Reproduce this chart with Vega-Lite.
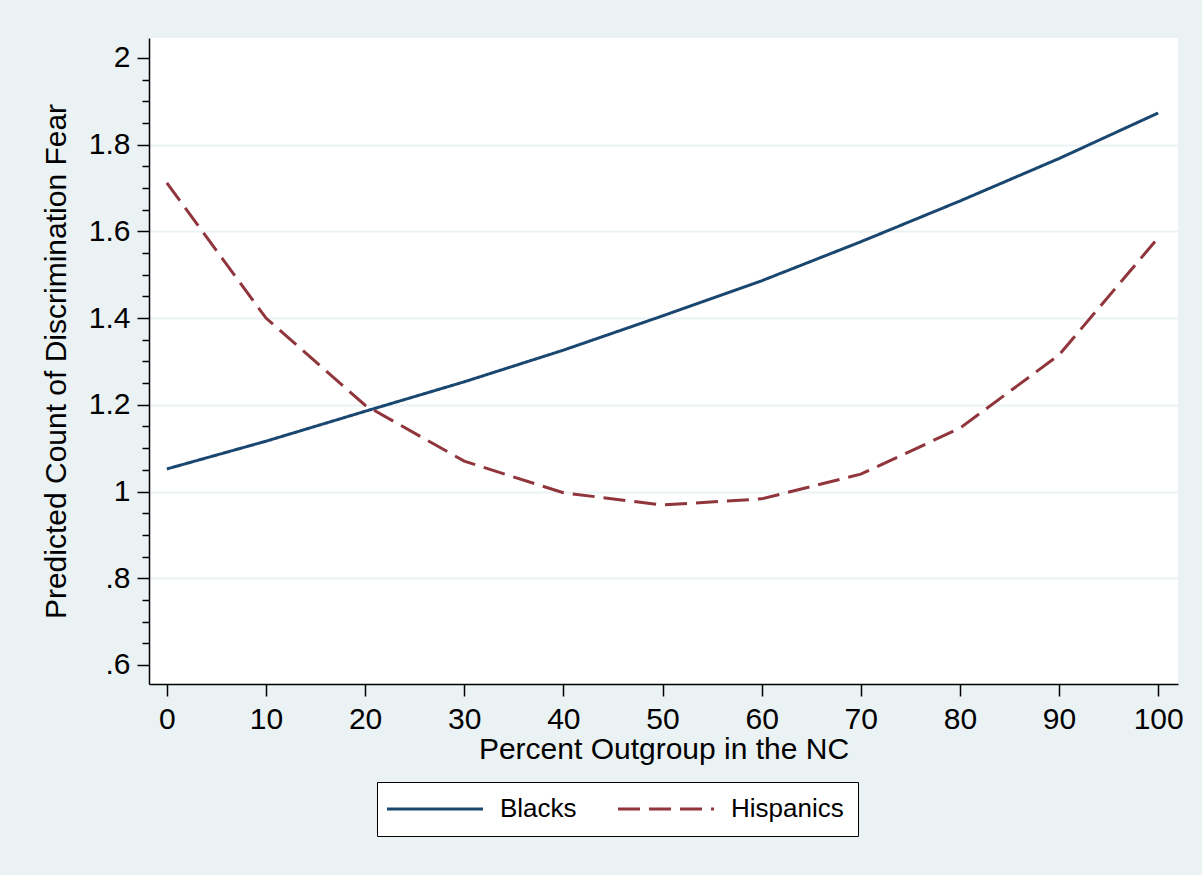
{
  "$schema": "https://vega.github.io/schema/vega-lite/v6.json",
  "autosize": {"type": "none"},
  "width": 1029,
  "height": 646,
  "padding": {"left": 149, "top": 38, "right": 24, "bottom": 191},
  "background": "#eaf2f3",
  "config": {
    "view": {"fill": "white", "stroke": null},
    "font": "Liberation Sans",
    "axis": {"labelFont": "Liberation Sans", "titleFont": "Liberation Sans", "labelColor": "black", "titleColor": "black", "titleFontWeight": "normal", "domainColor": "black", "tickColor": "black", "domainWidth": 1.5, "tickWidth": 1.5}
  },
  "data": {
    "values": [
      {"x": 0, "y": 1.052, "group": "Blacks"},
      {"x": 10, "y": 1.116, "group": "Blacks"},
      {"x": 20, "y": 1.185, "group": "Blacks"},
      {"x": 30, "y": 1.253, "group": "Blacks"},
      {"x": 40, "y": 1.326, "group": "Blacks"},
      {"x": 50, "y": 1.405, "group": "Blacks"},
      {"x": 60, "y": 1.486, "group": "Blacks"},
      {"x": 70, "y": 1.576, "group": "Blacks"},
      {"x": 80, "y": 1.670, "group": "Blacks"},
      {"x": 90, "y": 1.768, "group": "Blacks"},
      {"x": 100, "y": 1.873, "group": "Blacks"},
      {"x": 0, "y": 1.712, "group": "Hispanics"},
      {"x": 10, "y": 1.400, "group": "Hispanics"},
      {"x": 20, "y": 1.199, "group": "Hispanics"},
      {"x": 30, "y": 1.070, "group": "Hispanics"},
      {"x": 40, "y": 0.997, "group": "Hispanics"},
      {"x": 50, "y": 0.969, "group": "Hispanics"},
      {"x": 60, "y": 0.983, "group": "Hispanics"},
      {"x": 70, "y": 1.040, "group": "Hispanics"},
      {"x": 80, "y": 1.146, "group": "Hispanics"},
      {"x": 90, "y": 1.315, "group": "Hispanics"},
      {"x": 100, "y": 1.585, "group": "Hispanics"}
    ]
  },
  "mark": {"type": "line", "strokeWidth": 3, "strokeCap": "butt"},
  "encoding": {
    "x": {
      "field": "x", "type": "quantitative",
      "scale": {"domain": [-1.8, 102], "nice": false, "zero": false},
      "axis": {"values": [0,10,20,30,40,50,60,70,80,90,100], "title": "Percent Outgroup in the NC", "grid": false, "tickSize": 12, "labelFontSize": 30, "titleFontSize": 30, "labelPadding": 8, "titlePadding": 0}
    },
    "y": {
      "field": "y", "type": "quantitative",
      "scale": {"domain": [0.556, 2.046], "nice": false, "zero": false},
      "axis": {
        "values": [0.6,0.65,0.7,0.75,0.8,0.85,0.9,0.95,1.0,1.05,1.1,1.15,1.2,1.25,1.3,1.35,1.4,1.45,1.5,1.55,1.6,1.65,1.7,1.75,1.8,1.85,1.9,1.95,2.0],
        "labelExpr": "abs(datum.value*5 - round(datum.value*5)) < 0.001 ? replace(format(datum.value, '~g'), /^0/, '') : ''",
        "title": "Predicted Count of Discrimination Fear",
        "labelFontSize": 30, "titleFontSize": 30,
        "labelPadding": 7, "titlePadding": 17,
        "tickSize": {"condition": {"test": "abs(datum.value*5 - round(datum.value*5)) < 0.001", "value": 12}, "value": 7},
        "grid": true,
        "gridColor": "#eaf2f3",
        "gridWidth": 2,
        "gridOpacity": {"condition": {"test": "abs(datum.value*5 - round(datum.value*5)) < 0.001 && datum.value > 0.7 && datum.value < 1.9", "value": 1}, "value": 0}
      }
    },
    "color": {
      "field": "group", "type": "nominal",
      "scale": {"domain": ["Blacks", "Hispanics"], "range": ["#1a476f", "#90353b"]},
      "legend": {
        "title": null, "orient": "none", "legendX": 228, "legendY": 744, "direction": "horizontal",
        "symbolType": "M-1.7,0L7.9,0", "symbolSize": 400, "symbolStrokeWidth": 3,
        "labelFontSize": 26, "labelFont": "Liberation Sans", "labelColor": "black", "labelOffset": 83,
        "columnPadding": 35, "padding": 14, "strokeColor": "black", "fillColor": "white"
      }
    },
    "strokeDash": {
      "field": "group", "type": "nominal",
      "scale": {"domain": ["Blacks", "Hispanics"], "range": [[1, 0], [22, 9]]},
      "legend": null
    }
  }
}
